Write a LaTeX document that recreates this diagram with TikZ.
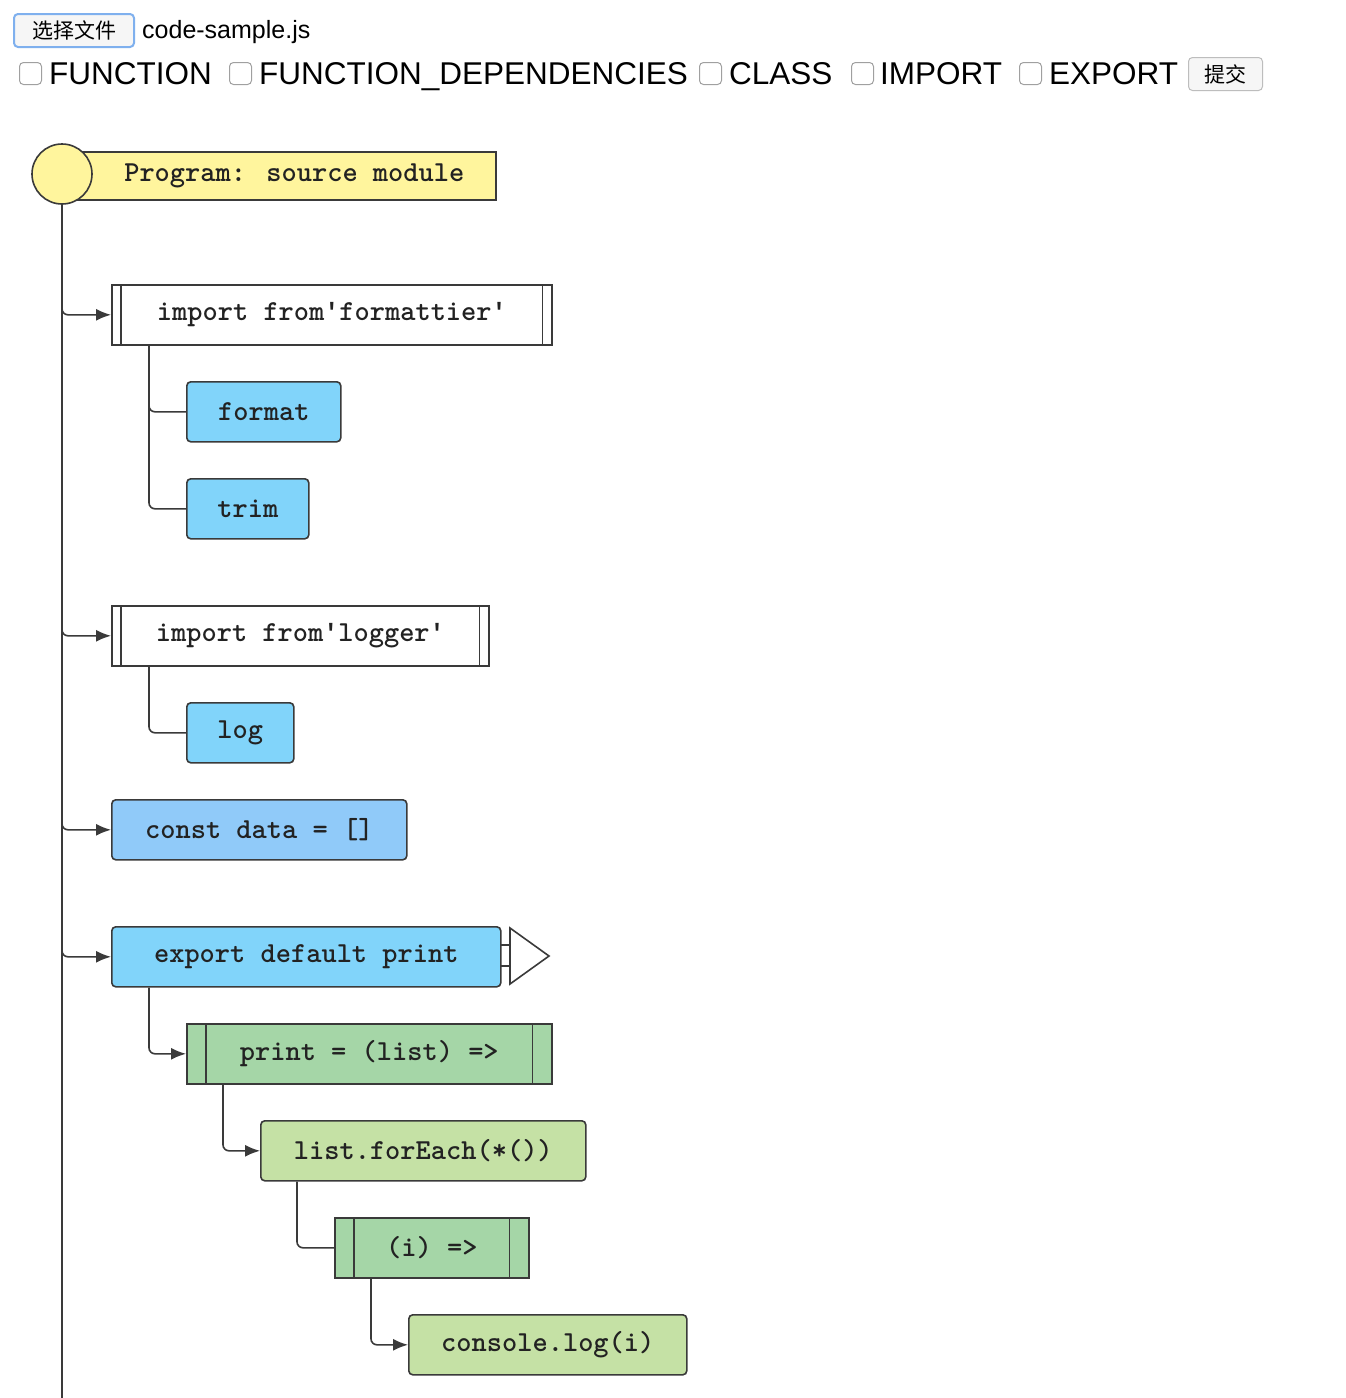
\documentclass[tikz,border=0pt]{standalone}
\usepackage{fontspec}
\setmainfont{Liberation Sans}
\newfontfamily\libmono{Liberation Mono}
\newcommand\codefont{\ttfamily\bfseries}
\newcommand\sq{{\libmono\bfseries\fontsize{25}{30}\selectfont\char"27}}
\newfontfamily\cjkfont{Noto Sans CJK SC}
\usetikzlibrary{arrows.meta}
\definecolor{linec}{HTML}{3A3A3A}
\definecolor{progy}{HTML}{FFF59D}
\definecolor{lblue}{HTML}{81D4FA}
\definecolor{cblue}{HTML}{90CAF9}
\definecolor{dgreen}{HTML}{A5D6A7}
\definecolor{lgreen}{HTML}{C5E1A5}
\definecolor{btnblue}{HTML}{7FB0EE}
\definecolor{btnfill}{HTML}{F6F6F6}
\definecolor{chkc}{HTML}{A0A0A0}
\definecolor{txtc}{HTML}{222222}
\begin{document}
\begin{tikzpicture}[x=1pt,y=-1pt,
  codebox/.style={draw=linec, line width=1.6pt, text=txtc, font=\codefont\fontsize{29}{34}\selectfont,
    minimum height=60pt, inner xsep=0pt, anchor=north west},
  rbox/.style={codebox, rounded corners=4pt},
  conn/.style={draw=linec, line width=1.6pt, rounded corners=6pt},
  arr/.style={conn, -{Latex[length=15pt,width=12pt]}},
  chk/.style={draw=chkc, line width=1pt, rounded corners=4pt, fill=white, minimum size=22pt, inner sep=0pt, anchor=north west},
  lbl/.style={anchor=base west, inner sep=0pt, font=\fontsize{31.5}{31.5}\selectfont},
  btn/.style={rounded corners=4pt, fill=btnfill, minimum height=33pt, inner sep=0pt, anchor=north west, font=\cjkfont\fontsize{21}{21}\selectfont}
]
\useasboundingbox[fill=white] (0,0) rectangle (1346,1398);

% ---------- header ----------
\node[btn, draw=btnblue, line width=2pt, minimum width=120pt] (choose) at (13,13) {选择文件};
\node[anchor=base west, inner sep=0pt, font=\fontsize{25}{25}\selectfont] (fname) at (142,38) {code-sample.js};

\node[chk] (c1) at (19,62) {};
\node[lbl] (l1) at (49,84) {FUNCTION};
\node[chk] (c2) at (229,62) {};
\node[lbl] (l2) at (259,84) {FUNCTION\_DEPENDENCIES};
\node[chk] (c3) at (699,62) {};
\node[lbl] (l3) at (729,84) {CLASS};
\node[chk] (c4) at (851,62) {};
\node[lbl] (l4) at (880,84) {IMPORT};
\node[chk] (c5) at (1019,62) {};
\node[lbl] (l5) at (1049,84) {EXPORT};
\node[btn, draw=chkc!70, line width=1pt, minimum width=74pt] (submit) at (1188,57) {提交};

% ---------- tree nodes ----------
\node[codebox, fill=progy, minimum height=48pt, minimum width=433pt] (prog) at (62,151) {\hspace*{30pt}Program: source module};
\node[circle, draw=linec, line width=1.6pt, fill=progy, minimum size=60pt, inner sep=0pt] (root) at (62,174) {};

\node[codebox, fill=white, minimum width=440pt] (imp1) at (111,284) {import from\sq formattier\sq};
\node[rbox, fill=lblue, minimum width=154pt] (fmt) at (186,381) {format};
\node[rbox, fill=lblue, minimum width=122pt] (trim) at (186,478) {trim};
\node[codebox, fill=white, minimum width=377pt] (imp2) at (111,605) {import from\sq logger\sq};
\node[rbox, fill=lblue, minimum width=107pt] (log) at (186,702) {log};
\node[rbox, fill=cblue, minimum width=295pt] (const) at (111,799) {const data = []};
\node[rbox, fill=lblue, minimum width=389pt] (exp) at (111,926) {export default print};
\node[codebox, fill=dgreen, minimum width=365pt] (prn) at (186,1023) {print = (list) =>};
\node[rbox, fill=lgreen, minimum width=325pt] (each) at (260,1120) {list.forEach(*())};
\node[codebox, fill=dgreen, minimum width=194pt] (ifn) at (334,1217) {(i) =>};
\node[rbox, fill=lgreen, minimum width=278pt] (cons) at (408,1314) {console.log(i)};

% inner border lines
\foreach \n/\d in {imp1/10, imp2/10, prn/20, ifn/20}{
  \draw[linec, line width=1.6pt] ([xshift=\d pt]\n.north west) -- ([xshift=\d pt]\n.south west);
  \draw[linec, line width=1.6pt] ([xshift=-\d pt]\n.north east) -- ([xshift=-\d pt]\n.south east);
}

% export marker
\draw[linec, line width=1.6pt] (500,945) -- (510,945) (500,966) -- (510,966);
\draw[linec, line width=1.6pt, fill=white, line join=miter] (510,928) -- (549,956) -- (510,984) -- cycle;

% ---------- connectors ----------
\coordinate (trunkend) at (62,1398);
\draw[conn] (root.south) -- (trunkend);
\draw[arr] (root.south) |- (imp1.west);
\draw[arr] (root.south) |- (imp2.west);
\draw[arr] (root.south) |- (const.west);
\draw[arr] (root.south) |- (exp.west);
\draw[conn] ([xshift=38pt]imp1.south west) |- (fmt.west);
\draw[conn] ([xshift=38pt]imp1.south west) |- (trim.west);
\draw[conn] ([xshift=38pt]imp2.south west) |- (log.west);
\draw[arr] ([xshift=38pt]exp.south west) |- (prn.west);
\draw[arr] ([xshift=37pt]prn.south west) |- (each.west);
\draw[conn] ([xshift=37pt]each.south west) |- (ifn.west);
\draw[arr] ([xshift=37pt]ifn.south west) |- (cons.west);
\end{tikzpicture}
\end{document}
